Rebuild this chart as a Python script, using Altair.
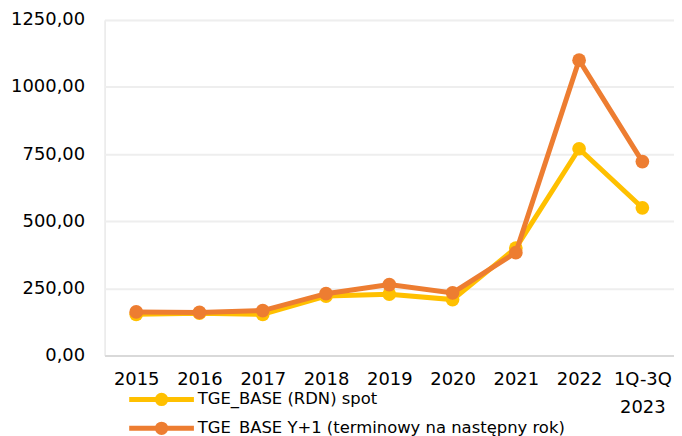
import altair as alt
import pandas as pd

categories = ["2015", "2016", "2017", "2018", "2019", "2020", "2021", "2022", "1Q-3Q|2023"]
spot = [153, 157, 153, 221, 228, 208, 400, 770, 550]
forward = [162, 160, 167, 230, 264, 233, 383, 1100, 722]
series_names = ["TGE_BASE (RDN) spot", "TGE_BASE Y+1 (terminowy na następny rok)"]
colors = ["#FFC000", "#ED7D31"]

df = pd.DataFrame({
    "cat": categories * 2,
    "val": spot + forward,
    "series": [series_names[0]] * len(categories) + [series_names[1]] * len(categories),
})

FONT = "DejaVu Sans"

color_scale = alt.Scale(domain=series_names, range=colors)

x = alt.X("cat:N", sort=categories, title=None,
          scale=alt.Scale(paddingInner=0, paddingOuter=0.5),
          axis=alt.Axis(labelAngle=0, labelExpr="split(datum.label, '|')",
                        labelLineHeight=28, ticks=False, labelPadding=15,
                        domainColor="#d9d9d9", domainWidth=2, grid=False,
                        labelFontSize=18, labelColor="#000000", labelFont=FONT))
y = alt.Y("val:Q", title=None,
          scale=alt.Scale(domain=[0, 1250], nice=False),
          axis=alt.Axis(values=[0, 250, 500, 750, 1000, 1250],
                        labelExpr="replace(format(datum.value, '.2f'), '.', ',')",
                        ticks=False, domain=False, labelPadding=20,
                        gridColor="#eeeeee", gridWidth=2,
                        labelFontSize=18, labelColor="#000000", labelFont=FONT))

sym = "M-6.5,0 L6.5,0 M-0.84,0 A0.84,0.84 0 1,1 0.84,0 A0.84,0.84 0 1,1 -0.84,0 Z"

color = alt.Color("series:N", scale=color_scale, title=None,
                  legend=alt.Legend(orient="none", legendX=49, legendY=373,
                                    direction="vertical", symbolType=sym,
                                    symbolSize=100, symbolStrokeWidth=5,
                                    labelFontSize=16.5, labelFont=FONT,
                                    labelColor="#000000", rowPadding=0,
                                    labelOffset=28, labelLimit=500))

layers = []
for name in series_names:
    base = alt.Chart(df).transform_filter(alt.datum.series == name)
    line = base.mark_line(strokeWidth=5).encode(x=x, y=y, color=color)
    pts = base.mark_circle(size=190, opacity=1).encode(x=x, y=y, color=color)
    layers += [line, pts]

chart = alt.layer(*layers).properties(
    width=572, height=337,
    autosize=alt.AutoSizeParams(type="none"),
    padding={"left": 97, "top": 11, "right": 0, "bottom": 80},
).configure_view(stroke=None).configure(font=FONT)

chart.save("out.html", embed_options={"renderer": "svg", "actions": False})
